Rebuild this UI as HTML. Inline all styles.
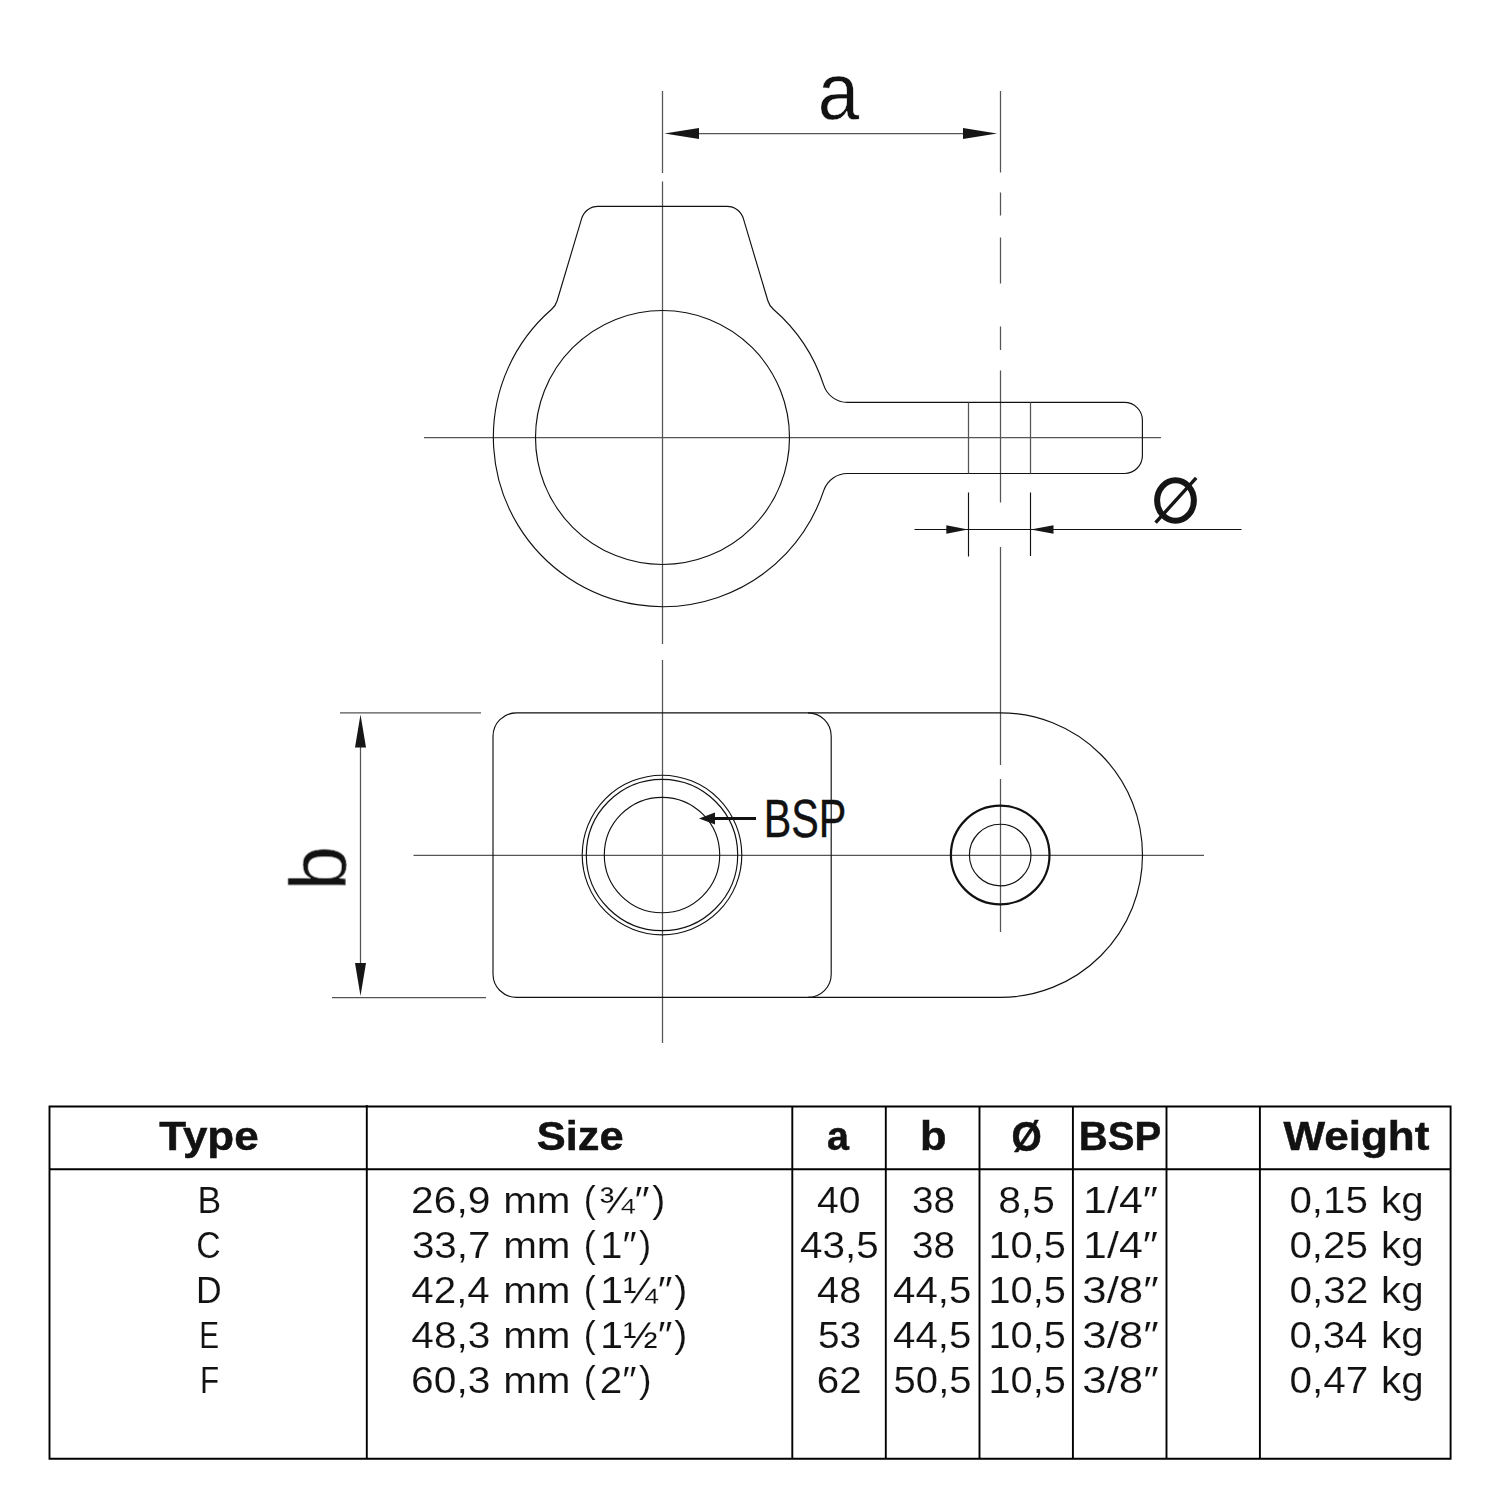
<!DOCTYPE html>
<html><head><meta charset="utf-8">
<style>
html,body{margin:0;padding:0;background:#fff;width:1501px;height:1501px;overflow:hidden}
svg{display:block}
text{font-family:"Liberation Sans",sans-serif;fill:#111}
.o{fill:none;stroke:#111;stroke-width:1.15}
.c{fill:none;stroke:#555;stroke-width:1.25}
.t{fill:none;stroke:#000;stroke-width:1.9}
.ar{fill:#161616;stroke:none}
</style></head>
<body>
<svg width="1501" height="1501" viewBox="0 0 1501 1501">
<!-- ===== TOP VIEW ===== -->
<!-- left vertical centerline -->
<path class="c" d="M662.5 91 V173 M662.5 181.5 V644 M662.5 660 V1043"/>
<!-- right dashed centerline -->
<path class="c" d="M1000.5 91 V172.5 M1000.5 192.5 V215.5 M1000.5 237.5 V283.5 M1000.5 326.5 V350 M1000.5 370.5 V502.5 M1000.5 547 V765 M1000.5 779 V932"/>
<!-- dimension a -->
<path class="c" d="M699 133.5 H963"/>
<path class="ar" d="M664.5 133.5 L699 128 L699 139 Z"/>
<path class="ar" d="M997 133.5 L963 128 L963 139 Z"/>
<!-- horizontal centerline top view -->
<path class="c" d="M424 437.5 H1161"/>
<!-- clamp outline -->
<path class="o" d="M 597.97 206.30 L 727.03 206.30 A 17 17 0 0 1 743.32 218.44 L 767.86 300.78 A 18 18 0 0 0 773.34 309.26 A 169.5 169.5 0 0 1 823.71 385.12 A 25 25 0 0 0 847.48 402.4 L 1124.4 402.4 A 18 18 0 0 1 1142.4 420.4 L 1142.4 455.5 A 18 18 0 0 1 1124.4 473.5 L 847.48 473.5 A 25 25 0 0 0 823.71 490.66 A 169.5 169.5 0 1 1 551.66 309.26 A 18 18 0 0 0 557.14 300.78 L 581.68 218.44 A 17 17 0 0 1 597.97 206.30 Z"/>
<circle class="o" cx="662.5" cy="437.5" r="127"/>
<!-- hole lines in tab -->
<path class="c" d="M968.5 402.4 V473.5 M1030.5 402.4 V473.5"/>
<!-- dimension diameter -->
<path class="o" d="M968.5 492.5 V556.5 M1030.5 492.5 V556"/>
<path class="o" d="M914.5 529.5 H1241.5"/>
<path class="ar" d="M968 529.5 L946.3 525.3 L946.3 533.7 Z"/>
<path class="ar" d="M1030.7 529.5 L1053.5 525.3 L1053.5 533.7 Z"/>
<!-- ===== BOTTOM VIEW ===== -->
<path class="c" d="M340 712.8 H481 M332 997.5 H486"/>
<path class="c" d="M360.5 747 V963.5"/>
<path class="ar" d="M360.5 714.5 L355 747.5 L366 747.5 Z"/>
<path class="ar" d="M360.5 996 L355 963 L366 963 Z"/>
<path class="c" d="M413.5 855.3 H1204"/>
<!-- plate -->
<path class="o" d="M516.5 712.8 H1000.2 A142.3 142.3 0 0 1 1000.2 997.4 H516.5 A23.5 23.5 0 0 1 493 973.9 V736.3 A23.5 23.5 0 0 1 516.5 712.8 Z"/>
<path class="o" d="M808 712.8 A23.2 23.2 0 0 1 831.2 736 V974.2 A23.2 23.2 0 0 1 808 997.4"/>
<!-- BSP hole -->
<circle class="o" cx="662" cy="855" r="57.7"/>
<circle class="o" cx="662" cy="855" r="75.7"/>
<circle class="o" cx="662" cy="855" r="79.8"/>
<!-- small hole -->
<circle class="o" cx="1000.2" cy="855" r="49.3" style="stroke-width:2.2"/>
<circle class="o" cx="1000.2" cy="855" r="30.8"/>
<!-- BSP arrow -->
<path class="o" d="M712 818.5 H756" style="stroke-width:3"/>
<path class="ar" d="M699 818.5 L715 812.5 L715 824.5 Z"/>

<!-- ===== TABLE ===== -->
<path class="t" d="M49.5 1106.5 H1450.6 V1458.7 H49.5 Z"/>
<path class="t" d="M49.5 1169.2 H1450.6"/>
<path class="t" d="M366.8 1105 V1458.7 M792.3 1106.5 V1458.7 M885.8 1106.5 V1458.7 M979.5 1106.5 V1458.7 M1072.9 1106.5 V1458.7 M1166.5 1106.5 V1458.7 M1259.9 1106.5 V1458.7"/>
<!-- TEXTS -->
<g opacity="0.995" stroke="#111" stroke-width="2.5">
<text font-size="200" font-weight="700" transform="matrix(0.21975 0.00000 0.00000 0.19928 159.310 1150.000)">Type</text>
<text font-size="200" font-weight="700" transform="matrix(0.21705 0.00000 0.00000 0.19928 536.698 1150.000)">Size</text>
<text font-size="200" font-weight="700" transform="matrix(0.19717 0.00000 0.00000 0.19928 827.117 1150.000)">a</text>
<text font-size="200" font-weight="700" transform="matrix(0.21782 0.00000 0.00000 0.19928 919.968 1150.000)">b</text>
<text font-size="200" font-weight="700" transform="matrix(0.20051 0.00000 0.00000 0.19928 1078.693 1150.000)">BSP</text>
<text font-size="200" font-weight="700" transform="matrix(0.22030 0.00000 0.00000 0.19928 1283.400 1150.000)">Weight</text>
<text font-size="200" font-weight="700" transform="matrix(0.19424 0.00000 0.00000 0.21060 1011.446 1150.526)">Ø</text>
</g>
<g opacity="0.995" stroke="#fff" stroke-width="0.7">
<text font-size="200" transform="matrix(0.17925 0.00000 0.00000 0.18021 583.749 1212.031)">(</text>
<text font-size="200" transform="matrix(0.19615 0.00000 0.00000 0.18021 652.208 1212.031)">)</text>
<text font-size="200" transform="matrix(0.17925 0.00000 0.00000 0.18021 583.749 1257.031)">(</text>
<text font-size="200" transform="matrix(0.18269 0.00000 0.00000 0.18021 639.035 1257.031)">)</text>
<text font-size="200" transform="matrix(0.17925 0.00000 0.00000 0.18021 583.749 1302.031)">(</text>
<text font-size="200" transform="matrix(0.19615 0.00000 0.00000 0.18021 674.208 1302.031)">)</text>
<text font-size="200" transform="matrix(0.17925 0.00000 0.00000 0.18021 583.749 1347.031)">(</text>
<text font-size="200" transform="matrix(0.19615 0.00000 0.00000 0.18021 674.208 1347.031)">)</text>
<text font-size="200" transform="matrix(0.17925 0.00000 0.00000 0.18021 583.749 1392.031)">(</text>
<text font-size="200" transform="matrix(0.18846 0.00000 0.00000 0.18021 639.023 1392.031)">)</text>
<text font-size="200" transform="matrix(0.17757 0.00000 0.00000 0.18043 197.459 1213.000)">B</text>
<text font-size="200" transform="matrix(0.16905 0.00000 0.00000 0.18043 196.310 1258.000)">C</text>
<text font-size="200" transform="matrix(0.17815 0.00000 0.00000 0.18043 195.950 1303.000)">D</text>
<text font-size="200" transform="matrix(0.14862 0.00000 0.00000 0.18043 199.322 1348.000)">E</text>
<text font-size="200" transform="matrix(0.15714 0.00000 0.00000 0.18043 199.986 1393.000)">F</text>
<text font-size="200" transform="matrix(0.20378 0.00000 0.00000 0.18043 411.062 1213.000)">26,9</text>
<text font-size="200" transform="matrix(0.20216 0.00000 0.00000 0.18043 411.883 1258.000)">33,7</text>
<text font-size="200" transform="matrix(0.20159 0.00000 0.00000 0.18043 411.292 1303.000)">42,4</text>
<text font-size="200" transform="matrix(0.20320 0.00000 0.00000 0.18043 411.284 1348.000)">48,3</text>
<text font-size="200" transform="matrix(0.20378 0.00000 0.00000 0.18043 411.062 1393.000)">60,3</text>
<text font-size="200" transform="matrix(0.20228 0.00000 0.00000 0.18043 503.170 1213.000)">mm</text>
<text font-size="200" transform="matrix(0.20228 0.00000 0.00000 0.18043 503.170 1258.000)">mm</text>
<text font-size="200" transform="matrix(0.20228 0.00000 0.00000 0.18043 503.170 1303.000)">mm</text>
<text font-size="200" transform="matrix(0.20228 0.00000 0.00000 0.18043 503.170 1348.000)">mm</text>
<text font-size="200" transform="matrix(0.20228 0.00000 0.00000 0.18043 503.170 1393.000)">mm</text>
<text font-size="200" transform="matrix(0.21322 0.00000 0.00000 0.18043 599.007 1213.000)">¾″</text>
<text font-size="200" transform="matrix(0.19939 0.00000 0.00000 0.18043 600.209 1258.000)">1″</text>
<text font-size="200" transform="matrix(0.20727 0.00000 0.00000 0.18043 600.091 1303.000)">1¼″</text>
<text font-size="200" transform="matrix(0.20727 0.00000 0.00000 0.18043 600.091 1348.000)">1½″</text>
<text font-size="200" transform="matrix(0.20238 0.00000 0.00000 0.18043 599.676 1393.000)">2″</text>
<text font-size="200" transform="matrix(0.19571 0.00000 0.00000 0.18043 817.021 1213.000)">40</text>
<text font-size="200" transform="matrix(0.20239 0.00000 0.00000 0.18043 799.988 1258.000)">43,5</text>
<text font-size="200" transform="matrix(0.19809 0.00000 0.00000 0.18043 817.110 1303.000)">48</text>
<text font-size="200" transform="matrix(0.19417 0.00000 0.00000 0.18043 817.947 1348.000)">53</text>
<text font-size="200" transform="matrix(0.20198 0.00000 0.00000 0.18043 816.680 1393.000)">62</text>
<text font-size="200" transform="matrix(0.19320 0.00000 0.00000 0.18043 911.954 1213.000)">38</text>
<text font-size="200" transform="matrix(0.19320 0.00000 0.00000 0.18043 911.954 1258.000)">38</text>
<text font-size="200" transform="matrix(0.20133 0.00000 0.00000 0.18043 892.993 1303.000)">44,5</text>
<text font-size="200" transform="matrix(0.20133 0.00000 0.00000 0.18043 892.993 1348.000)">44,5</text>
<text font-size="200" transform="matrix(0.20027 0.00000 0.00000 0.18043 893.598 1393.000)">50,5</text>
<text font-size="200" transform="matrix(0.20383 0.00000 0.00000 0.18043 998.166 1213.000)">8,5</text>
<text font-size="200" transform="matrix(0.19891 0.00000 0.00000 0.18043 988.416 1258.000)">10,5</text>
<text font-size="200" transform="matrix(0.19891 0.00000 0.00000 0.18043 988.416 1303.000)">10,5</text>
<text font-size="200" transform="matrix(0.19891 0.00000 0.00000 0.18043 988.416 1348.000)">10,5</text>
<text font-size="200" transform="matrix(0.19891 0.00000 0.00000 0.18043 988.416 1393.000)">10,5</text>
<text font-size="200" transform="matrix(0.21485 0.00000 0.00000 0.18043 1083.077 1213.000)">1/4″</text>
<text font-size="200" transform="matrix(0.21485 0.00000 0.00000 0.18043 1083.077 1258.000)">1/4″</text>
<text font-size="200" transform="matrix(0.21929 0.00000 0.00000 0.18043 1082.246 1303.000)">3/8″</text>
<text font-size="200" transform="matrix(0.21929 0.00000 0.00000 0.18043 1082.246 1348.000)">3/8″</text>
<text font-size="200" transform="matrix(0.21929 0.00000 0.00000 0.18043 1082.246 1393.000)">3/8″</text>
<text font-size="200" transform="matrix(0.20161 0.00000 0.00000 0.18043 1289.387 1213.000)">0,15</text>
<text font-size="200" transform="matrix(0.20161 0.00000 0.00000 0.18043 1289.387 1258.000)">0,25</text>
<text font-size="200" transform="matrix(0.20270 0.00000 0.00000 0.18043 1289.378 1303.000)">0,32</text>
<text font-size="200" transform="matrix(0.20053 0.00000 0.00000 0.18043 1289.396 1348.000)">0,34</text>
<text font-size="200" transform="matrix(0.20270 0.00000 0.00000 0.18043 1289.378 1393.000)">0,47</text>
<text font-size="200" transform="matrix(0.20162 0.00000 0.00000 0.18043 1381.079 1213.000)">kg</text>
<text font-size="200" transform="matrix(0.20162 0.00000 0.00000 0.18043 1381.079 1258.000)">kg</text>
<text font-size="200" transform="matrix(0.20162 0.00000 0.00000 0.18043 1381.079 1303.000)">kg</text>
<text font-size="200" transform="matrix(0.20162 0.00000 0.00000 0.18043 1381.079 1348.000)">kg</text>
<text font-size="200" transform="matrix(0.20162 0.00000 0.00000 0.18043 1381.079 1393.000)">kg</text>
</g>
<g opacity="0.995" stroke="#111" stroke-width="1.5">
<text font-size="200" transform="matrix(0.20668 0.00000 0.00000 0.26761 763.693 837.465)">BSP</text>
</g>
<g opacity="0.995" stroke="#fff" stroke-width="1.2">
<text font-size="200" transform="matrix(0.37255 0.00000 0.00000 0.39818 817.747 119.004)">a</text>
<text font-size="200" transform="matrix(0.00000 -0.40333 0.39864 0.00000 346.103 890.643)">b</text>
</g>
<!-- diameter label -->
<ellipse cx="1175.5" cy="500.5" rx="18.4" ry="20.3" fill="none" stroke="#151515" stroke-width="6"/>
<path d="M1155.6 522.6 L1196.2 477.8" stroke="#151515" stroke-width="3.4" fill="none"/>
</svg>
</body></html>
